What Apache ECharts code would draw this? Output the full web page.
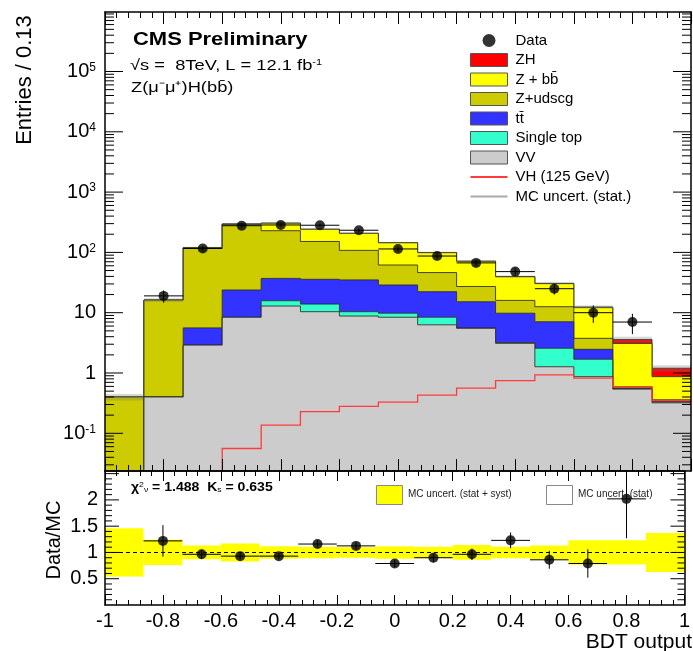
<!DOCTYPE html>
<html>
<head>
<meta charset="utf-8">
<script src="https://cdn.jsdelivr.net/npm/echarts@6/dist/echarts.min.js"></script>
<style>
  html, body { margin: 0; padding: 0; background: #fff; }
  #chart { width: 693px; height: 651px; }
</style>
</head>
<body>
<div id="chart"></div>
<script>
// ---- BDT output histogram, 15 bins between -1 and 1 ----
const binEdges = [-1, -0.867, -0.733, -0.6, -0.467, -0.333, -0.2, -0.067, 0.067, 0.2, 0.333, 0.467, 0.6, 0.733, 0.867, 1];

// background / signal expectations per bin (entries)
const vv        = [0, 0.40, 2.9, 8.4, 12.9, 10.4, 8.8, 8.4, 6.3, 5.5, 3.1, 1.27, 0.87, 0.54, 0.32];
const singleTop = [0, 0, 0, 0, 2.9, 3.5, 1.6, 1.4, 2.1, 0.1, 0.1, 1.3, 0.82, 0.01, 0.01];
const ttbar     = [0, 0, 2.7, 15.4, 21.2, 21.9, 24.6, 19.0, 13.9, 9.6, 6.6, 4.5, 0.78, 0.01, 0.01];
const zudscg    = [0.40, 15.8, 112.4, 266, 192, 116, 73, 33, 24, 12, 6.2, 5.5, 1.29, 0.03, 0.02];
const zbb       = [0, 0, 2, 6, 76, 90, 99, 83, 53, 44, 23.6, 17.9, 8.5, 2.5, 0.51];
const zh        = [0, 0, 0, 0, 0, 0, 0, 0, 0.03, 0.05, 0.1, 0.15, 0.12, 0.5, 0.33];
const mcStat    = [0.05, 1.2, 4, 8, 8, 7, 6, 4.5, 3.5, 2.5, 1.6, 1.3, 0.8, 0.4, 0.15];

// VH (125 GeV) signal shape, drawn unstacked
const vh125     = [0.005, 0.005, 0.005, 0.056, 0.137, 0.228, 0.28, 0.33, 0.43, 0.56, 0.75, 0.93, 0.82, 0.59, 0.35];

// observed data
const dataCounts = [0, 19, 116, 277, 285, 282, 233, 114, 87, 67, 48, 25, 10, 7, 0];
const dataErr    = [0, 4.4, 10.8, 16.6, 16.9, 16.8, 15.3, 10.7, 9.3, 8.2, 6.9, 5.0, 3.2, 2.6, 0];

// ratio panel
const ratio    = [null, 1.22, 0.965, 0.93, 0.93, 1.16, 1.125, 0.79, 0.90, 0.965, 1.23, 0.86, 0.79, 2.02, null];
const ratioErr = [0, 0.30, 0.09, 0.06, 0.06, 0.07, 0.07, 0.07, 0.09, 0.11, 0.15, 0.17, 0.27, 0.75, 0];
const mcBand   = [0.46, 0.24, 0.13, 0.17, 0.12, 0.11, 0.10, 0.12, 0.11, 0.14, 0.11, 0.13, 0.23, 0.23, 0.37];

const Y_MIN = 0.0237, Y_MAX = 9.7e5;
const R_MIN = 0, R_MAX = 2.55;
const FONT = '"Liberation Sans", Arial, Helvetica, sans-serif';
const nb = binEdges.length - 1;
const floorLog = v => Math.max(v, 1e-4);

// stack, bottom to top
const stack = [
  { name: 'VV',         vals: vv,        fill: '#cccccc' },
  { name: 'Single top', vals: singleTop, fill: '#33ffcc' },
  { name: 'tt\u0304',   vals: ttbar,     fill: '#3333ff' },
  { name: 'Z+udscg',    vals: zudscg,    fill: '#cccc00' },
  { name: 'Z + bb\u0304', vals: zbb,     fill: '#ffff00' },
  { name: 'ZH',         vals: zh,        fill: '#ff0000' }
];
let running = new Array(nb).fill(0);
stack.forEach(s => {
  s.lower = running.slice();
  s.upper = running.map((r, i) => r + s.vals[i]);
  running = s.upper;
});
const mcTotal = running;

function stackSeries(s) {
  return {
    type: 'custom', name: s.name, xAxisIndex: 0, yAxisIndex: 0, clip: true, z: 2,
    itemStyle: { color: s.fill, borderColor: '#333', borderWidth: 1 },
    data: [[0, 1]],
    renderItem(params, api) {
      const top = [], bot = [];
      for (let i = 0; i < nb; i++) {
        top.push(api.coord([binEdges[i], floorLog(s.upper[i])]));
        top.push(api.coord([binEdges[i + 1], floorLog(s.upper[i])]));
      }
      for (let i = nb - 1; i >= 0; i--) {
        bot.push(api.coord([binEdges[i + 1], floorLog(s.lower[i])]));
        bot.push(api.coord([binEdges[i], floorLog(s.lower[i])]));
      }
      return {
        type: 'group', children: [
          { type: 'polygon', shape: { points: top.concat(bot) }, style: { fill: s.fill, stroke: null } },
          { type: 'polyline', shape: { points: top }, style: { stroke: 'rgba(40,40,30,0.85)', lineWidth: 1, fill: null } }
        ]
      };
    }
  };
}

// log-axis tick values (decades with 2..9 sub-ticks)
const logTicks = [];
for (let e = -2; e <= 5; e++) {
  for (let k = 1; k <= 9; k++) {
    const v = k * Math.pow(10, e);
    if (v > Y_MIN && v < Y_MAX) logTicks.push([-1, v, k === 1 ? 1 : 0]);
  }
}
const ratioTicks = [];
for (let k = 1; k <= 25; k++) ratioTicks.push([-1, k / 10, k % 5 === 0 ? 1 : 0]);

function sideTicks(xAxisIndex, yAxisIndex, ticks, majorLen, minorLen) {
  return {
    type: 'custom', xAxisIndex, yAxisIndex, clip: false, z: 12, silent: true,
    data: ticks,
    renderItem(params, api) {
      const v = api.value(1), major = api.value(2) === 1;
      const len = major ? majorLen : minorLen;
      const p = api.coord([-1, v]), q = api.coord([1, v]);
      const st = { stroke: '#000', lineWidth: 1 };
      return {
        type: 'group', children: [
          { type: 'line', shape: { x1: p[0], y1: p[1], x2: p[0] + len, y2: p[1] }, style: st },
          { type: 'line', shape: { x1: q[0] - len, y1: q[1], x2: q[0], y2: q[1] }, style: st }
        ]
      };
    }
  };
}

const centers = binEdges.slice(0, nb).map((e, i) => (e + binEdges[i + 1]) / 2);

const series = [];
// draw the top of the stack first so each outline stays visible above its neighbour
stack.slice().reverse().forEach(s => series.push(stackSeries(s)));

// MC statistical uncertainty on the stack total
series.push({
  type: 'custom', name: 'MC uncert. (stat.)', xAxisIndex: 0, yAxisIndex: 0, clip: true, z: 3,
  itemStyle: { color: '#999' },
  data: mcTotal.map((t, i) => [i, t]),
  renderItem(params, api) {
    const i = api.value(0), t = mcTotal[i], e = mcStat[i];
    const a = api.coord([binEdges[i], floorLog(t + e)]);
    const b = api.coord([binEdges[i + 1], floorLog(Math.max(t - e, 1e-4))]);
    return { type: 'rect', shape: { x: a[0], y: a[1], width: b[0] - a[0], height: b[1] - a[1] },
             style: { fill: 'rgba(110,110,110,0.28)' } };
  },
  encode: { x: 0, y: 1 }
});

// VH (125 GeV) line
series.push({
  type: 'custom', name: 'VH (125 GeV)', xAxisIndex: 0, yAxisIndex: 0, clip: true, z: 4,
  itemStyle: { color: '#ff3b3b' },
  data: [[0, 1]],
  renderItem(params, api) {
    const pts = [];
    for (let i = 0; i < nb; i++) {
      pts.push(api.coord([binEdges[i], floorLog(vh125[i])]));
      pts.push(api.coord([binEdges[i + 1], floorLog(vh125[i])]));
    }
    return { type: 'polyline', shape: { points: pts }, style: { stroke: '#ff3b3b', lineWidth: 1.3, fill: null } };
  }
});

// data points
const dataPts = [];
dataCounts.forEach((n, i) => { if (n > 0) dataPts.push([centers[i], n, i]); });
series.push({
  type: 'scatter', name: 'Data', xAxisIndex: 0, yAxisIndex: 0, z: 6,
  symbol: 'circle', symbolSize: 10, itemStyle: { color: '#000' },
  data: dataPts
});
series.push({
  type: 'custom', xAxisIndex: 0, yAxisIndex: 0, clip: true, z: 5, silent: true,
  data: dataPts,
  renderItem(params, api) {
    const i = api.value(2), n = api.value(1);
    const l = api.coord([binEdges[i], n]), r = api.coord([binEdges[i + 1], n]);
    const up = api.coord([centers[i], n + dataErr[i]]), dn = api.coord([centers[i], Math.max(n - dataErr[i], 1e-4)]);
    const st = { stroke: '#000', lineWidth: 1 };
    return { type: 'group', children: [
      { type: 'line', shape: { x1: l[0], y1: l[1], x2: r[0], y2: r[1] }, style: st },
      { type: 'line', shape: { x1: up[0], y1: up[1], x2: dn[0], y2: dn[1] }, style: st }
    ] };
  }
});

// ratio panel: MC uncertainty band
series.push({
  type: 'custom', name: 'MC uncert. (stat + syst)', xAxisIndex: 2, yAxisIndex: 2, clip: true, z: 2,
  data: mcBand.map((e, i) => [i, 1]),
  encode: { x: 0, y: 1 },
  renderItem(params, api) {
    const i = api.value(0), e = mcBand[i];
    const a = api.coord([binEdges[i], 1 + e]), b = api.coord([binEdges[i + 1], 1 - e]);
    return { type: 'rect', shape: { x: a[0], y: a[1], width: b[0] - a[0], height: b[1] - a[1] },
             style: { fill: '#ffff00' } };
  },
  markLine: {
    silent: true, symbol: 'none', label: { show: false },
    lineStyle: { color: '#000', type: [4, 3], width: 1 },
    data: [{ yAxis: 1 }]
  }
});

const ratioPts = [];
ratio.forEach((r, i) => { if (r !== null) ratioPts.push([centers[i], r, i]); });
series.push({
  type: 'custom', xAxisIndex: 2, yAxisIndex: 2, clip: true, z: 5, silent: true,
  data: ratioPts,
  renderItem(params, api) {
    const i = api.value(2), r = api.value(1);
    const l = api.coord([binEdges[i], r]), rr = api.coord([binEdges[i + 1], r]);
    const up = api.coord([centers[i], r + ratioErr[i]]), dn = api.coord([centers[i], r - ratioErr[i]]);
    const st = { stroke: '#000', lineWidth: 1 };
    return { type: 'group', children: [
      { type: 'line', shape: { x1: l[0], y1: l[1], x2: rr[0], y2: rr[1] }, style: st },
      { type: 'line', shape: { x1: up[0], y1: up[1], x2: dn[0], y2: dn[1] }, style: st }
    ] };
  }
});
series.push({
  type: 'scatter', name: 'Data/MC points', xAxisIndex: 2, yAxisIndex: 2, z: 6, clip: true,
  symbol: 'circle', symbolSize: 10, itemStyle: { color: '#000' },
  data: ratioPts
});

// y-axis ticks drawn on both sides
series.push(sideTicks(0, 0, logTicks, 18, 9));
series.push(sideTicks(2, 2, ratioTicks, 14, 7));

const axisLine = { show: true, onZero: false, lineStyle: { color: '#000', width: 1.5 } };
function xAx(gridIndex, position, showLabels, tickLen) {
  return {
    type: 'value', gridIndex, position, min: -1, max: 1, interval: 0.2, z: 10,
    axisLine, splitLine: { show: false },
    axisTick: { show: true, inside: true, length: tickLen, lineStyle: { color: '#000', width: 1 } },
    minorTick: { show: true, splitNumber: 5, length: tickLen / 2, lineStyle: { color: '#000', width: 1 } },
    axisLabel: { show: showLabels, margin: 6, fontFamily: FONT, fontSize: 20, color: '#000',
                 formatter: v => String(Math.round(v * 10) / 10) }
  };
}

function logLabel(v) {
  const lg = Math.log10(v), n = Math.round(lg);
  if (Math.abs(lg - n) > 1e-6) return '';
  if (n === 0) return '{b|1}';
  if (n === 1) return '{b|10}';
  return '{b|10}{e|' + n + '}';
}

// stretched text helper for the ROOT-style annotations
function label(x, y, text, size, opts) {
  return Object.assign({ type: 'text', x, y, z: 20, scaleX: 1.22,
    style: Object.assign({ text, fontFamily: FONT, fontSize: size, fill: '#000',
      align: 'left', verticalAlign: 'middle' }, opts || {}) });
}

const option = {
  animation: false,
  backgroundColor: '#fff',
  grid: [
    { left: 105, top: 12, width: 586, height: 459 },
    { left: 105, top: 471, width: 586, height: 134 }
  ],
  xAxis: [
    xAx(0, 'bottom', false, 12),
    xAx(0, 'top', false, 12),
    xAx(1, 'bottom', true, 10),
    xAx(1, 'top', false, 10)
  ],
  yAxis: [
    { type: 'log', gridIndex: 0, position: 'left', min: Y_MIN, max: Y_MAX, logBase: 10, z: 10,
      axisLine, axisTick: { show: false }, splitLine: { show: false },
      axisLabel: { margin: 9, showMinLabel: false, showMaxLabel: false, formatter: logLabel,
        rich: {
          b: { fontFamily: FONT, fontSize: 20, color: '#000' },
          e: { fontFamily: FONT, fontSize: 12, color: '#000', verticalAlign: 'top' }
        } } },
    { type: 'log', gridIndex: 0, position: 'right', min: Y_MIN, max: Y_MAX, logBase: 10, z: 10,
      axisLine, axisTick: { show: false }, axisLabel: { show: false }, splitLine: { show: false } },
    { type: 'value', gridIndex: 1, position: 'left', min: R_MIN, max: R_MAX, interval: 0.5, z: 10,
      axisLine, axisTick: { show: false }, splitLine: { show: false },
      axisLabel: { margin: 7, fontFamily: FONT, fontSize: 20, color: '#000',
        formatter: v => (v > 0.01 && v < 2.2) ? String(v) : '' } },
    { type: 'value', gridIndex: 1, position: 'right', min: R_MIN, max: R_MAX, interval: 0.5, z: 10,
      axisLine, axisTick: { show: false }, axisLabel: { show: false }, splitLine: { show: false } }
  ],
  legend: {
    left: 470, top: 33, orient: 'vertical', selectedMode: false,
    itemWidth: 37, itemHeight: 13, itemGap: 4.5, padding: 0,
    textStyle: { fontFamily: FONT, fontSize: 15, color: '#000', padding: [0, 0, 0, 3] },
    data: [
      { name: 'Data', icon: 'circle', itemStyle: { color: '#000', borderWidth: 0 } },
      { name: 'ZH', icon: 'rect', itemStyle: { color: '#ff0000', borderColor: '#555', borderWidth: 1 } },
      { name: 'Z + bb\u0304', icon: 'rect', itemStyle: { color: '#ffff00', borderColor: '#555', borderWidth: 1 } },
      { name: 'Z+udscg', icon: 'rect', itemStyle: { color: '#cccc00', borderColor: '#555', borderWidth: 1 } },
      { name: 'tt\u0304', icon: 'rect', itemStyle: { color: '#3333ff', borderColor: '#555', borderWidth: 1 } },
      { name: 'Single top', icon: 'rect', itemStyle: { color: '#33ffcc', borderColor: '#555', borderWidth: 1 } },
      { name: 'VV', icon: 'rect', itemStyle: { color: '#cccccc', borderColor: '#555', borderWidth: 1 } },
      { name: 'VH (125 GeV)', icon: 'path://M0,0H40V2H0Z', itemStyle: { color: '#ff3b3b', borderWidth: 0 } },
      { name: 'MC uncert. (stat.)', icon: 'path://M0,0H40V2H0Z', itemStyle: { color: '#aaaaaa', borderWidth: 0 } }
    ]
  },
  graphic: [
    label(133, 40, 'CMS Preliminary', 18, { fontWeight: 'bold' }),
    label(130, 66, '{t|\u221As =  8TeV, L = 12.1 fb}{s|-1}', 15, {
      rich: { t: { fontFamily: FONT, fontSize: 15, fill: '#000' },
              s: { fontFamily: FONT, fontSize: 9, fill: '#000', verticalAlign: 'top' } } }),
    label(131, 88, 'Z(\u03BC\u207B\u03BC\u207A)H(bb\u0304)', 15),
    { type: 'text', x: 25, y: 80, rotation: Math.PI / 2, z: 20,
      style: { text: 'Entries / 0.13', fontFamily: FONT, fontSize: 22, fill: '#000',
               align: 'center', verticalAlign: 'middle' } },
    { type: 'text', x: 54, y: 540, rotation: Math.PI / 2, z: 20,
      style: { text: 'Data/MC', fontFamily: FONT, fontSize: 20, fill: '#000',
               align: 'center', verticalAlign: 'middle' } },
    { type: 'text', x: 692, y: 642, z: 20,
      style: { text: 'BDT output', fontFamily: FONT, fontSize: 21, fill: '#000',
               align: 'right', verticalAlign: 'middle' } },
    Object.assign(label(131, 487, '{t|\u03C7}{s|2}{b|\u03BD}{t| = 1.488  K}{b|s}{t| = 0.635}', 13, {
      rich: { t: { fontFamily: FONT, fontSize: 13, fontWeight: 'bold', fill: '#000' },
              s: { fontFamily: FONT, fontSize: 8, fill: '#000', verticalAlign: 'top' },
              b: { fontFamily: FONT, fontSize: 8, fill: '#000', verticalAlign: 'bottom' } } }), { scaleX: 1.08 }),
    { type: 'rect', left: 376, top: 485, z: 20,
      shape: { width: 26, height: 19 }, style: { fill: '#ffff00', stroke: '#888', lineWidth: 1 } },
    { type: 'text', left: 408, top: 489, z: 20,
      style: { text: 'MC uncert. (stat + syst)', fontFamily: FONT, fontSize: 10, fill: '#222' } },
    { type: 'rect', left: 546, top: 485, z: 20,
      shape: { width: 26, height: 19 }, style: { fill: '#fff', stroke: '#888', lineWidth: 1 } },
    { type: 'text', left: 578, top: 489, z: 20,
      style: { text: 'MC uncert. (stat)', fontFamily: FONT, fontSize: 10, fill: '#222' } }
  ],
  series
};

const chart = echarts.init(document.getElementById('chart'));
chart.setOption(option);
</script>
</body>
</html>
